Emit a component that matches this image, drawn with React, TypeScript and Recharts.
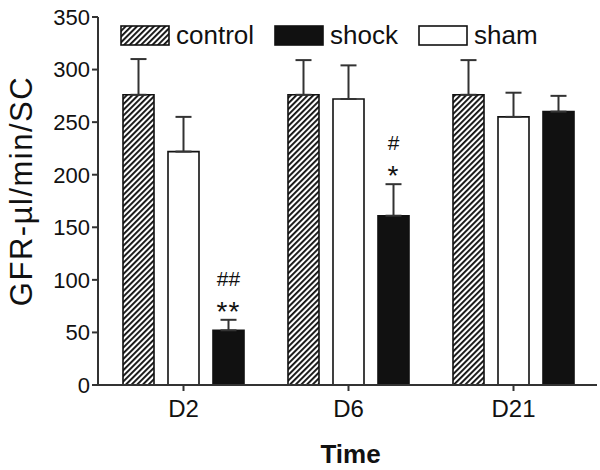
import { BarChart, Bar, XAxis, YAxis, ErrorBar, Legend, LabelList } from 'recharts'

const days = ['D2', 'D6', 'D21']
const control = [276, 276, 276]
const controlErr = [34, 33, 33]
const sham = [222, 272, 255]
const shamErr = [33, 32, 23]
const shock = [52, 161, 260]
const shockErr = [10, 30, 15]
// significance marks above the shock bars: [hash, star]
const shockMarks = [['##', '**'], ['#', '*'], ['', '']]
const yTicks = [0, 50, 100, 150, 200, 250, 300, 350]
const legendItems = ['control', 'shock', 'sham']

const font = "Arial, 'Liberation Sans', sans-serif"
const ink = '#111'

const data = days.map((day, i) => ({
	day,
	control: control[i],
	controlErr: [0, controlErr[i]],
	sham: sham[i],
	shamErr: [0, shamErr[i]],
	shock: shock[i],
	shockErr: [0, shockErr[i]]
}))

const fills: Record<string, string> = {
	control: 'url(#hatch)',
	shock: ink,
	sham: '#fff'
}

const Hatch = ({ id }: { id: string }) => (
	<defs>
		<pattern id={id} patternUnits="userSpaceOnUse" width={4} height={4} patternTransform="rotate(45)">
			<rect x={0} y={0} width={4} height={4} fill="#fff" />
			<rect x={0} y={0} width={1.9} height={4} fill={ink} />
		</pattern>
	</defs>
)

const renderLegend = () => (
	<div style={{ display: 'flex', alignItems: 'center', fontFamily: font, fontSize: 26, color: ink }}>
		{legendItems.map((k) => (
			<div key={k} style={{ display: 'flex', alignItems: 'center', marginRight: 20 }}>
				<svg width={50} height={21}>
					<Hatch id="hatchLegend" />
					<rect
						x={1}
						y={1}
						width={48}
						height={19}
						fill={k === 'control' ? 'url(#hatchLegend)' : fills[k]}
						stroke={ink}
						strokeWidth={1.6}
					/>
				</svg>
				<span style={{ marginLeft: 6, lineHeight: '26px' }}>{k}</span>
			</div>
		))}
	</div>
)

const MarkLabel = (props: any) => {
	const { x, y, width, height, index, value } = props
	const marks = shockMarks[index]
	if (!marks || !marks[0]) return null
	const perUnit = height / value
	const top = y - shockErr[index] * perUnit
	const cx = x + width / 2
	return (
		<g fontFamily={font} fill={ink}>
			<text x={cx} y={top + 1} textAnchor="middle" fontSize={28} letterSpacing={1}>
				{marks[1]}
			</text>
			<text x={cx} y={top - 34} textAnchor="middle" fontSize={21}>
				{marks[0]}
			</text>
		</g>
	)
}

const App = () => {
	return (
		<div style={{ position: 'absolute', left: 0, top: 0, width: 600, height: 470, background: '#fff' }}>
			<BarChart
				width={600}
				height={470}
				data={data}
				margin={{ top: 17, right: 3, bottom: 45, left: 38 }}
				barSize={31}
				barGap={14}
			>
				<Hatch id="hatch" />
				<XAxis
					dataKey="day"
					height={40}
					padding={{ left: 3, right: 1 }}
					axisLine={{ stroke: '#333', strokeWidth: 2 }}
					tickLine={{ stroke: '#333', strokeWidth: 2 }}
					tickSize={6}
					tickMargin={9}
					tick={{ fontSize: 24, fill: ink, fontFamily: font }}
					label={{
						content: (p: any) => {
							const vb = p.viewBox
							return (
								<text
									x={vb.x + vb.width / 2 + 3}
									y={463}
									textAnchor="middle"
									fontFamily={font}
									fontSize={26}
									fontWeight="bold"
									fill={ink}
								>
									Time
								</text>
							)
						}
					}}
				/>
				<YAxis
					width={60}
					domain={[0, 350]}
					ticks={yTicks}
					interval={0}
					axisLine={{ stroke: '#333', strokeWidth: 2 }}
					tickLine={{ stroke: '#333', strokeWidth: 2 }}
					tickSize={6}
					tick={{ fontSize: 22, fill: ink, fontFamily: font }}
					label={{
						content: (p: any) => {
							const vb = p.viewBox
							const cx = vb.x - 17
							const cy = vb.y + vb.height / 2 - 10
							return (
								<text
									x={cx}
									y={cy}
									transform={`rotate(-90 ${cx} ${cy})`}
									textAnchor="middle"
									dominantBaseline="central"
									fontFamily={font}
									fontSize={31}
									letterSpacing={1.5}
									fill={ink}
								>
									GFR-µl/min/SC
								</text>
							)
						}
					}}
				/>
				<Legend
					layout="horizontal"
					verticalAlign="middle"
					align="center"
					content={renderLegend}
					wrapperStyle={{ top: 22, left: 120, width: 'auto', height: 'auto' }}
				/>
				<Bar dataKey="control" name="control" fill="url(#hatch)" stroke={ink} strokeWidth={1.6} isAnimationActive={false}>
					<ErrorBar dataKey="controlErr" width={8} stroke="#333" strokeWidth={2} />
				</Bar>
				<Bar dataKey="sham" name="sham" fill="#fff" stroke={ink} strokeWidth={1.6} isAnimationActive={false}>
					<ErrorBar dataKey="shamErr" width={8} stroke="#333" strokeWidth={2} />
				</Bar>
				<Bar dataKey="shock" name="shock" fill={ink} stroke={ink} strokeWidth={1.6} isAnimationActive={false}>
					<ErrorBar dataKey="shockErr" width={8} stroke="#333" strokeWidth={2} />
					<LabelList dataKey="shock" content={MarkLabel} />
				</Bar>
			</BarChart>
		</div>
	)
}

export default App
